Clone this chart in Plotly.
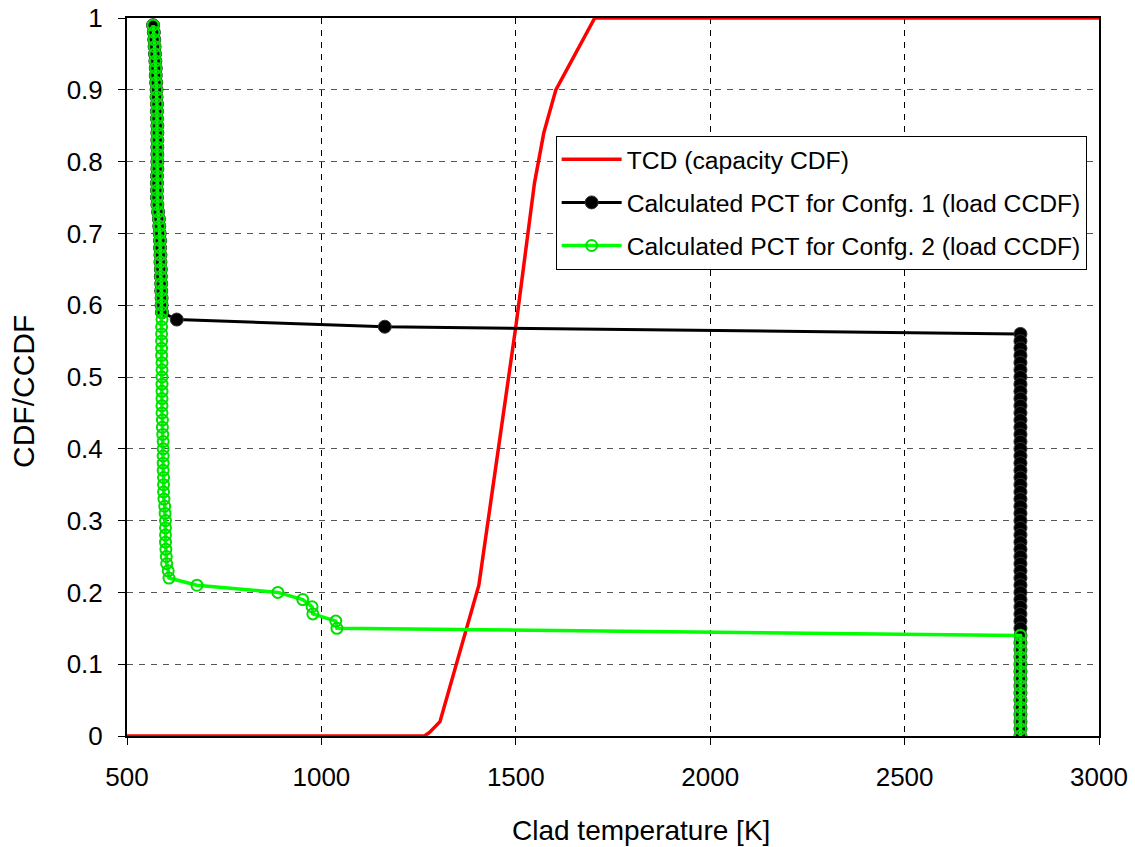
import plotly.graph_objects as go

# TCD (capacity CDF)
tcd_x = [500, 1265, 1278, 1305, 1405, 1500, 1548, 1572, 1603, 1703, 3000]
tcd_y = [0, 0, 0.005, 0.02, 0.21, 0.57, 0.77, 0.84, 0.90, 1.0, 1.0]

# Common upper cluster (both configurations)
upper_y = [0.99, 0.98, 0.97, 0.96, 0.95, 0.94, 0.93, 0.92, 0.91, 0.90,
           0.89, 0.88, 0.87, 0.86, 0.85, 0.84, 0.83, 0.82, 0.81, 0.80,
           0.79, 0.78, 0.77, 0.76, 0.75, 0.74, 0.73, 0.72, 0.71, 0.70,
           0.69, 0.68, 0.67, 0.66, 0.65, 0.64, 0.63, 0.62, 0.61, 0.60, 0.59]
upper_x = [567, 569, 570, 571, 572, 573, 574, 574, 575, 576,
           576, 577, 577, 577, 578, 578, 578, 578, 578, 578,
           578, 577, 577, 577, 577, 578, 580, 582, 583, 584,
           585, 585, 586, 586, 587, 587, 588, 588, 589, 589, 590]

# Confg. 1 tail
c1_tail_y = [0.58, 0.57, 0.56, 0.55, 0.54, 0.53, 0.52, 0.51, 0.50, 0.49,
             0.48, 0.47, 0.46, 0.45, 0.44, 0.43, 0.42, 0.41, 0.40, 0.39,
             0.38, 0.37, 0.36, 0.35, 0.34, 0.33, 0.32, 0.31, 0.30, 0.29,
             0.28, 0.27, 0.26, 0.25, 0.24, 0.23, 0.22, 0.21, 0.20, 0.19,
             0.18, 0.17, 0.16, 0.15, 0.14, 0.13, 0.12, 0.11, 0.10, 0.09,
             0.08, 0.07, 0.06, 0.05, 0.04, 0.03, 0.02, 0.01, 0.00]
c1_tail_x = [628, 1163, 2798, 2798, 2798, 2798, 2798, 2798, 2798, 2798,
             2798, 2798, 2798, 2798, 2798, 2798, 2798, 2798, 2798, 2798,
             2798, 2798, 2798, 2798, 2798, 2798, 2798, 2798, 2798, 2798,
             2798, 2798, 2798, 2798, 2798, 2798, 2798, 2798, 2798, 2798,
             2798, 2798, 2798, 2798, 2798, 2798, 2798, 2798, 2798, 2798,
             2798, 2798, 2798, 2798, 2798, 2798, 2798, 2798, 2798]

# Confg. 2 tail
c2_tail_y = [0.58, 0.57, 0.56, 0.55, 0.54, 0.53, 0.52, 0.51, 0.50, 0.49,
             0.48, 0.47, 0.46, 0.45, 0.44, 0.43, 0.42, 0.41, 0.40, 0.39,
             0.38, 0.37, 0.36, 0.35, 0.34, 0.33, 0.32, 0.31, 0.30, 0.29,
             0.28, 0.27, 0.26, 0.25, 0.24, 0.23, 0.22, 0.21, 0.20, 0.19,
             0.18, 0.17, 0.16, 0.15, 0.14, 0.13, 0.12, 0.11, 0.10, 0.09,
             0.08, 0.07, 0.06, 0.05, 0.04, 0.03, 0.02, 0.01, 0.00]
c2_tail_x = [590, 589, 589, 589, 589, 589, 590, 590, 590, 590,
             590, 590, 590, 590, 591, 591, 592, 593, 593, 593,
             593, 593, 594, 594, 594, 595, 597, 598, 599, 599,
             599, 599, 600, 601, 602, 606, 608, 680, 888, 952,
             976, 978, 1037, 1040, 2798, 2798, 2798, 2798, 2798, 2798,
             2798, 2798, 2798, 2798, 2798, 2798, 2798, 2798, 2798]

x_ticks = [500, 1000, 1500, 2000, 2500, 3000]
y_ticks = [0, 0.1, 0.2, 0.3, 0.4, 0.5, 0.6, 0.7, 0.8, 0.9, 1]
y_tick_labels = ["0", "0.1", "0.2", "0.3", "0.4", "0.5", "0.6", "0.7", "0.8", "0.9", "1"]

x_title = "Clad temperature [K]"
y_title = "CDF/CCDF"

FONT = "Liberation Sans, Arial, sans-serif"

fig = go.Figure()
fig.add_trace(go.Scatter(
    x=tcd_x, y=tcd_y, mode="lines", name="TCD (capacity CDF)",
    line=dict(color="#ff0000", width=3.5), legendgroup="a"))
fig.add_trace(go.Scatter(
    x=upper_x + c1_tail_x, y=upper_y + c1_tail_y, mode="lines+markers",
    name="Calculated PCT for Confg. 1 (load CCDF)",
    line=dict(color="#000000", width=3),
    marker=dict(symbol="circle", size=13, color="#000000",
                line=dict(color="#333333", width=1)),
    legendgroup="b"))
fig.add_trace(go.Scatter(
    x=upper_x + c2_tail_x, y=upper_y + c2_tail_y, mode="lines+markers",
    name="Calculated PCT for Confg. 2 (load CCDF)",
    line=dict(color="#00ff00", width=3.5),
    marker=dict(symbol="circle-open", size=11, color="#00e000",
                line=dict(color="#00e000", width=2)),
    legendgroup="c"))

fig.update_layout(
    width=1135, height=847,
    margin=dict(l=127, r=36, t=18, b=111),
    paper_bgcolor="white", plot_bgcolor="white",
    font=dict(family=FONT, size=26, color="black"),
    showlegend=True,
    legend=dict(x=0.441, y=0.836, xanchor="left", yanchor="top",
                bgcolor="white", bordercolor="black", borderwidth=1,
                font=dict(family=FONT, size=24.7, color="black"),
                tracegroupgap=8, itemwidth=60),
    xaxis=dict(range=[500, 3000], tickvals=x_ticks, automargin=False,
               ticks="outside", ticklen=7, tickcolor="black",
               tickfont=dict(family=FONT, size=26), ticklabelstandoff=10,
               showline=True, linecolor="black", linewidth=2, mirror=True,
               showgrid=True, gridcolor="black", gridwidth=1, griddash="6px,6px",
               zeroline=False),
    yaxis=dict(range=[0, 1], tickvals=y_ticks, ticktext=y_tick_labels, automargin=False,
               ticks="outside", ticklen=7, tickcolor="black",
               tickfont=dict(family=FONT, size=26), ticklabelstandoff=10,
               showline=True, linecolor="black", linewidth=2, mirror=True,
               showgrid=True, gridcolor="#555555", gridwidth=1, griddash="6px,6px",
               zeroline=False),
    annotations=[
        dict(text=x_title, xref="paper", yref="paper",
             x=(641 - 127) / 972, y=-(830 - 736) / 718,
             xanchor="center", yanchor="middle", showarrow=False,
             font=dict(family=FONT, size=28)),
        dict(text=y_title, xref="paper", yref="paper",
             x=-(127 - 23) / 972, y=(736 - 392) / 718,
             xanchor="center", yanchor="middle", showarrow=False, textangle=-90,
             font=dict(family=FONT, size=30)),
    ],
)

fig.write_html("out.html")
